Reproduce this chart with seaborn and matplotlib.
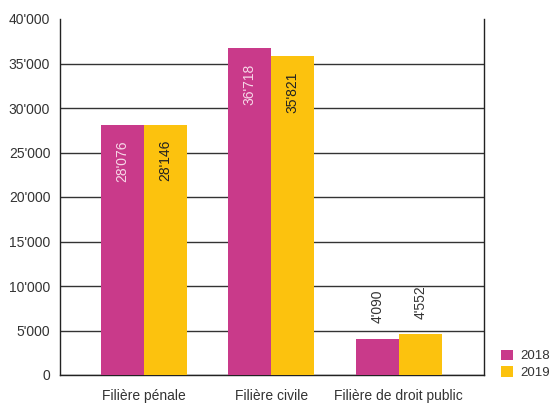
import matplotlib
matplotlib.use("Agg")
import matplotlib.pyplot as plt
import seaborn as sns
import pandas as pd
from matplotlib.ticker import FuncFormatter, MultipleLocator

categories = ["Filière pénale", "Filière civile", "Filière de droit public"]
years = ["2018", "2019"]
values_2018 = [28076, 36718, 4090]
values_2019 = [28146, 35821, 4552]

colors = {"2018": "#C93A8A", "2019": "#FCC20E"}

df = pd.DataFrame({
    "filiere": categories * 2,
    "year": ["2018"] * 3 + ["2019"] * 3,
    "value": values_2018 + values_2019,
})

sns.set_theme(style="white")
plt.rcParams["font.family"] = ["Liberation Sans", "DejaVu Sans"]

fig = plt.figure(figsize=(5.5, 4.03), dpi=100)
ax = fig.add_axes([60 / 550, 28 / 403, 424 / 550, 356 / 403])

sns.barplot(data=df, x="filiere", y="value", hue="year", order=categories,
            hue_order=years, palette=colors, width=0.675, gap=0,
            saturation=1, ax=ax, zorder=3, linewidth=0, edgecolor="none")

ax.set_ylim(0, 40000)
ax.set_xlim(-0.66, 2.67)
ax.yaxis.set_major_locator(MultipleLocator(5000))
ax.yaxis.set_major_formatter(FuncFormatter(lambda v, p: f"{int(v):,}".replace(",", "'")))
ax.grid(axis="y", color="#333333", linewidth=1.0, zorder=0)
ax.set_axisbelow(True)
ax.set_xlabel("")
ax.set_ylabel("")

for s in ["left", "right", "bottom"]:
    ax.spines[s].set_visible(True)
    ax.spines[s].set_color("#222222")
    ax.spines[s].set_linewidth(1.0)
ax.spines["top"].set_visible(False)

ax.tick_params(axis="y", length=0, pad=7, labelsize=10, labelcolor="#333333")
ax.tick_params(axis="x", length=0, pad=10, labelsize=10, labelcolor="#333333")

fig.canvas.draw()
for tick, gl in zip(ax.get_yticks(), ax.get_ygridlines()):
    if tick >= 40000:
        gl.set_visible(False)

def fmt(v):
    return f"{int(v):,}".replace(",", "'")

for cont, year in zip(ax.containers, years):
    for rect in cont:
        h = rect.get_height()
        xc = rect.get_x() + rect.get_width() / 2
        if h > 10000:
            col = "#F7D9E8" if year == "2018" else "#222222"
            ax.annotate(fmt(h), (xc, h), xytext=(0, -11), textcoords="offset points",
                        rotation=90, ha="center", va="top", fontsize=10, color=col, zorder=5)
        else:
            ax.annotate(fmt(h), (xc, h), xytext=(0, 11), textcoords="offset points",
                        rotation=90, ha="center", va="bottom", fontsize=10, color="#333333", zorder=5)

leg = ax.legend(loc="lower left", bbox_to_anchor=(1.013, -0.045), frameon=False,
                handlelength=0.85, handleheight=0.85, handletextpad=0.6,
                labelspacing=0.3, fontsize=9.5)
for t in leg.get_texts():
    t.set_color("#333333")

fig.savefig("out.png", dpi=100)
